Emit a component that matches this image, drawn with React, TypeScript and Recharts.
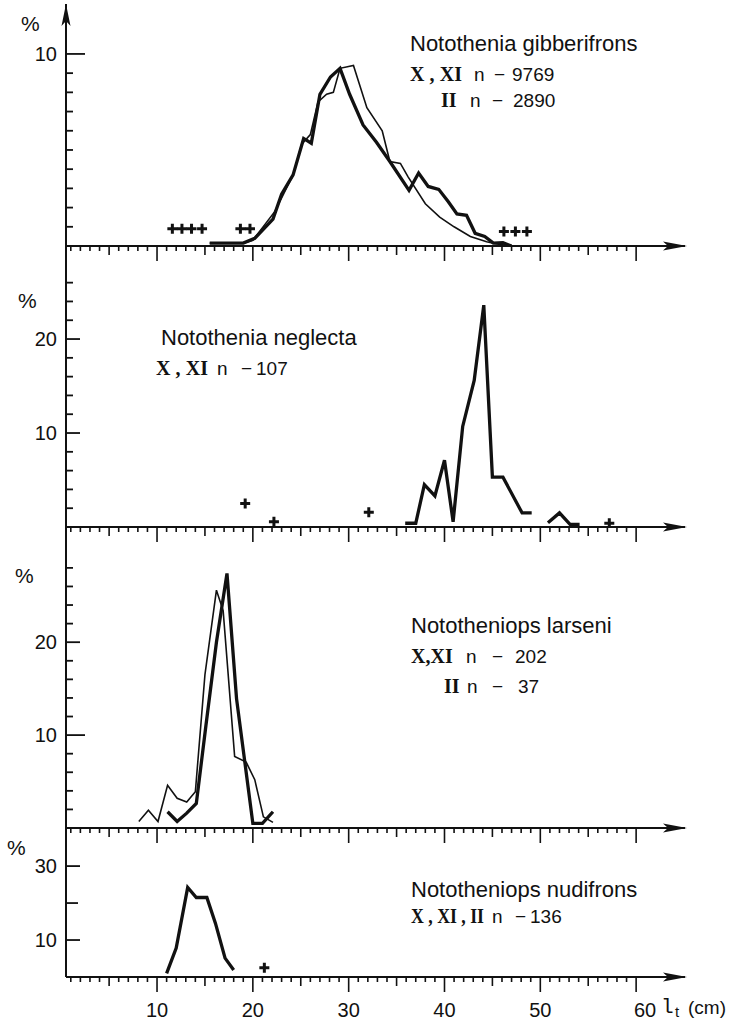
import React from "react";
import { ComposedChart, Line, XAxis, YAxis, Scatter, ReferenceDot } from "recharts";

// total length classes (cm) shared by all panels
const X_MIN = 0.5;
const X_MAX = 65.1;
const xTicks = Array.from({ length: 60 }, (_, i) => i + 1);
const xLabels = [10, 20, 30, 40, 50, 60];

// Notothenia gibberifrons
const gibLenXXI = [15.5, 19, 20.2, 22.1, 23, 24.2, 25.3, 26.1, 27, 28.1, 29.1, 30.1, 31.5, 32.9, 34.3, 36.3, 37.3, 38.3, 39.4, 40.4, 41.3, 42.3, 43.2, 44.2, 45.1, 46.1, 47];
const gibPctXXI = [0.15, 0.15, 0.4, 1.4, 2.7, 3.7, 5.6, 5.35, 7.9, 8.8, 9.25, 7.9, 6.3, 5.4, 4.4, 2.9, 3.8, 3.1, 2.95, 2.3, 1.67, 1.6, 0.66, 0.5, 0.15, 0.17, 0];
const gibLenII = [15.5, 19, 20, 22.3, 23.2, 24.2, 25.1, 26, 26.8, 27.7, 28.4, 29.1, 30.5, 31.9, 33.5, 34.3, 35.4, 36.2, 38, 39.5, 41, 42.7, 44.4, 45.5, 47];
const gibPctII = [0.15, 0.15, 0.3, 1.8, 2.7, 3.7, 5.3, 5.8, 7.5, 7.9, 8.0, 9.25, 9.4, 7.2, 6.0, 4.4, 4.3, 3.6, 2.2, 1.5, 1.0, 0.5, 0.22, 0.1, 0];
const gibRareLen = [11.6, 12.6, 13.6, 14.7, 18.7, 19.7, 46.2, 47.4, 48.6];
const gibRarePct = [0.9, 0.9, 0.9, 0.9, 0.9, 0.9, 0.75, 0.75, 0.75];

// Notothenia neglecta
const negLen = [35.9, 37, 37.9, 39, 40, 40.9, 41.9, 43.1, 44.1, 45, 46.1, 48.1, 49.1, 50, 50.8, 52, 53.1, 54.1];
const negPct = [0.4, 0.4, 4.5, 3.3, 7.1, 0.56, 10.7, 15.6, 23.6, 5.3, 5.3, 1.5, 1.5, null, 0.46, 1.5, 0.28, 0.28];
const negRareLen = [19.2, 22.2, 32.1, 57.2];
const negRarePct = [2.5, 0.56, 1.56, 0.4];

// Nototheniops larseni
const larLenXXI = [11.1, 12.1, 13.1, 14.1, 15.1, 16.2, 17.3, 18.3, 20.0, 21.0, 22.1];
const larPctXXI = [1.75, 0.7, 1.6, 2.65, 11, 20, 27.4, 13.9, 0.5, 0.5, 1.75];
const larLenII = [8.1, 9.1, 10.1, 11.1, 12.1, 13.1, 14.0, 15.0, 16.2, 16.9, 18.1, 19.3, 20.2, 21.1, 22.1];
const larPctII = [0.7, 1.9, 0.7, 4.6, 3.2, 2.8, 3.9, 16.5, 25.6, 23.4, 7.7, 7.1, 5.2, 1.2, 0.6];

// Nototheniops nudifrons
const nudLen = [11.0, 12.0, 13.2, 14.1, 15.2, 16.1, 17.1, 18.0];
const nudPct = [1.0, 7.8, 24.2, 21.5, 21.5, 14.5, 5.1, 1.9];
const nudRareLen = [21.2];
const nudRarePct = [2.5];

const toRows = (xs: number[], ys: (number | null)[]) => xs.map((x, i) => ({ len: x, pct: ys[i] }));

const INK = "#111";
const SANS = "'Liberation Sans', Arial, sans-serif";
const SERIF = "'Liberation Serif', 'Times New Roman', serif";

const Cross = (p: any) => {
  const { cx, cy } = p;
  return <path d={`M${cx - 5},${cy}H${cx + 5}M${cx},${cy - 5}V${cy + 5}`} stroke={INK} strokeWidth={3} fill="none" />;
};

const ArrowRight = (p: any) => {
  const { cx, cy } = p;
  return <path d={`M${cx + 2},${cy}L${cx - 22},${cy - 4.5}L${cx - 17},${cy}L${cx - 22},${cy + 4.5}Z`} fill={INK} />;
};

const ArrowUp = (p: any) => {
  const { cx, cy } = p;
  return <path d={`M${cx},${cy}L${cx - 4.5},${cy + 22}L${cx},${cy + 17}L${cx + 4.5},${cy + 22}Z`} fill={INK} />;
};

const makeXTick = (withLabels: boolean) => (props: any) => {
  const { x, y, payload } = props;
  const v = payload.value;
  const len = v % 10 === 0 ? 15 : v % 5 === 0 ? 9 : 5;
  return (
    <g>
      <line x1={x} x2={x} y1={y} y2={y + len} stroke={INK} strokeWidth={1.6} />
      {withLabels && xLabels.includes(v) && (
        <text x={v === 60 ? x + 9 : x} y={y + 40} textAnchor="middle" fontSize={20} fontFamily={SANS} fill={INK}>
          {v}
        </text>
      )}
    </g>
  );
};

const makeYTick = (longTicks: Record<number, number>, labels: number[]) => (props: any) => {
  const { x, y, payload } = props;
  const v = payload.value;
  const len = longTicks[v] ?? 7;
  return (
    <g>
      <line x1={x} x2={x + len} y1={y} y2={y} stroke={INK} strokeWidth={1.8} />
      {labels.includes(v) && (
        <text x={x - 9} y={y} dy="0.36em" textAnchor="end" fontSize={20} fontFamily={SANS} fill={INK}>
          {v}
        </text>
      )}
    </g>
  );
};

interface PanelProps {
  top: number;
  height: number;
  marginTop: number;
  xAxisHeight: number;
  yMax: number;
  yTicks: number[];
  longTicks: Record<number, number>;
  yLabels: number[];
  thick: any[];
  thin?: any[];
  rare?: any[];
  upArrow?: boolean;
  bottom?: boolean;
}

function Panel(p: PanelProps) {
  return (
    <div style={{ position: "absolute", left: 0, top: p.top, width: 733, height: p.height }}>
      <ComposedChart width={733} height={p.height} margin={{ top: p.marginTop, right: 48, bottom: 0, left: 0 }}>
        <XAxis
          type="number"
          dataKey="len"
          domain={[X_MIN, X_MAX]}
          allowDataOverflow
          ticks={xTicks}
          interval={0}
          height={p.xAxisHeight}
          tickSize={0}
          tickMargin={0}
          axisLine={{ stroke: INK, strokeWidth: 2 }}
          tick={makeXTick(!!p.bottom)}
        />
        <YAxis
          type="number"
          dataKey="pct"
          domain={[0, p.yMax]}
          allowDataOverflow
          ticks={p.yTicks}
          interval={0}
          width={66}
          tickSize={0}
          tickMargin={0}
          axisLine={{ stroke: INK, strokeWidth: 2 }}
          tick={makeYTick(p.longTicks, p.yLabels)}
        />
        {p.thin && (
          <Line data={p.thin} dataKey="pct" type="linear" stroke={INK} strokeWidth={1.6} dot={false} isAnimationActive={false} />
        )}
        <Line data={p.thick} dataKey="pct" type="linear" stroke={INK} strokeWidth={3.3} dot={false} connectNulls={false} isAnimationActive={false} strokeLinejoin="miter" />
        {p.rare && <Scatter data={p.rare} dataKey="pct" shape={Cross} isAnimationActive={false} />}
        <ReferenceDot x={X_MAX} y={0} r={0} shape={ArrowRight} ifOverflow="visible" />
        {p.upArrow && <ReferenceDot x={X_MIN} y={p.yMax} r={0} shape={ArrowUp} ifOverflow="visible" />}
      </ComposedChart>
    </div>
  );
}

export default function App() {
  const txt = { fontFamily: SANS, fontSize: 22, fill: INK } as const;
  const num = { fontFamily: SANS, fontSize: 19, fill: INK } as const;
  const rom = { fontFamily: SERIF, fontSize: 20, fontWeight: 700, fill: INK } as const;
  return (
    <div style={{ position: "absolute", left: 0, top: 0, width: 733, height: 1022, background: "#fff" }}>
      <Panel
        top={0}
        height={266}
        marginTop={4}
        xAxisHeight={20}
        yMax={12.6}
        yTicks={[1, 2, 3, 4, 5, 6, 7, 8, 9, 10]}
        longTicks={{ 10: 19 }}
        yLabels={[10]}
        thick={toRows(gibLenXXI, gibPctXXI)}
        thin={toRows(gibLenII, gibPctII)}
        rare={toRows(gibRareLen, gibRarePct)}
        upArrow
      />
      <Panel
        top={238}
        height={309}
        marginTop={8}
        xAxisHeight={20}
        yMax={29.9}
        yTicks={[2, 4, 6, 8, 10, 12, 14, 16, 18, 20, 22, 24, 26]}
        longTicks={{ 10: 14, 20: 14 }}
        yLabels={[10, 20]}
        thick={toRows(negLen, negPct)}
        rare={toRows(negRareLen, negRarePct)}
      />
      <Panel
        top={519}
        height={329}
        marginTop={8}
        xAxisHeight={20}
        yMax={32.4}
        yTicks={[2, 4, 6, 8, 10, 12, 14, 16, 18, 20, 22, 24, 26, 28]}
        longTicks={{ 10: 19, 20: 14 }}
        yLabels={[10, 20]}
        thick={toRows(larLenXXI, larPctXXI)}
        thin={toRows(larLenII, larPctII)}
      />
      <Panel
        top={820}
        height={202}
        marginTop={8}
        xAxisHeight={45}
        yMax={40.3}
        yTicks={[10, 20, 30]}
        longTicks={{ 10: 14, 20: 12, 30: 14 }}
        yLabels={[10, 30]}
        thick={toRows(nudLen, nudPct)}
        rare={toRows(nudRareLen, nudRarePct)}
        bottom
      />
      <svg width={733} height={1022} style={{ position: "absolute", left: 0, top: 0, pointerEvents: "none" }}>
        <text x={21} y={31} {...txt} fontSize={21}>%</text>
        <text x={18} y={308} {...txt} fontSize={21}>%</text>
        <text x={15} y={583} {...txt} fontSize={21}>%</text>
        <text x={7} y={855} {...txt} fontSize={21}>%</text>

        <text x={410} y={51} {...txt}>Notothenia gibberifrons</text>
        <text x={410} y={81} {...rom} textLength={52} lengthAdjust="spacing">X , XI</text>
        <text y={81}>
          <tspan x={474} {...num}>n</tspan>
          <tspan x={494} {...num}>−</tspan>
          <tspan x={512} {...num}>9769</tspan>
        </text>
        <text x={441} y={107} {...rom}>II</text>
        <text y={107}>
          <tspan x={470} {...num}>n</tspan>
          <tspan x={492} {...num}>−</tspan>
          <tspan x={513} {...num}>2890</tspan>
        </text>

        <text x={161} y={345} {...txt}>Notothenia neglecta</text>
        <text x={156} y={375} {...rom} textLength={52} lengthAdjust="spacing">X , XI</text>
        <text y={375}>
          <tspan x={217} {...num}>n</tspan>
          <tspan x={241} {...num}>−</tspan>
          <tspan x={256} {...num}>107</tspan>
        </text>

        <text x={411} y={633} {...txt}>Nototheniops larseni</text>
        <text x={411} y={663} {...rom}>X,XI</text>
        <text y={663}>
          <tspan x={466} {...num}>n</tspan>
          <tspan x={492} {...num}>−</tspan>
          <tspan x={515} {...num}>202</tspan>
        </text>
        <text x={444} y={693} {...rom}>II</text>
        <text y={693}>
          <tspan x={467} {...num}>n</tspan>
          <tspan x={492} {...num}>−</tspan>
          <tspan x={518} {...num}>37</tspan>
        </text>

        <text x={411} y={897} {...txt}>Nototheniops nudifrons</text>
        <text x={411} y={923} {...rom} textLength={73} lengthAdjust="spacingAndGlyphs">X , XI , II</text>
        <text y={923}>
          <tspan x={492} {...num}>n</tspan>
          <tspan x={515} {...num}>−</tspan>
          <tspan x={530} {...num}>136</tspan>
        </text>

        <text x={661} y={1013} fontFamily="'Liberation Mono', monospace" fontSize={21} fill={INK}>l</text>
        <text x={675} y={1017} fontFamily={SANS} fontSize={15} fill={INK}>t</text>
        <text x={688} y={1014} fontFamily={SANS} fontSize={19} fill={INK}>(cm)</text>
      </svg>
    </div>
  );
}
